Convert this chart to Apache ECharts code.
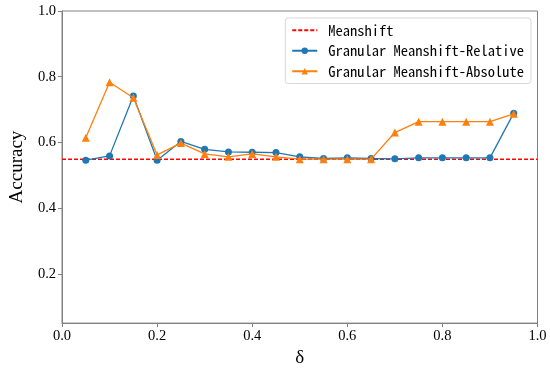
<!DOCTYPE html>
<html>
<head>
<meta charset="utf-8">
<script src="https://cdn.jsdelivr.net/npm/echarts@6/dist/echarts.min.js"></script>
<style>html,body{margin:0;padding:0;background:#fff}#c{width:550px;height:373px}</style>
</head>
<body>
<div id="c"></div>
<script>
const deltas = [0.05,0.1,0.15,0.2,0.25,0.3,0.35,0.4,0.45,0.5,0.55,0.6,0.65,0.7,0.75,0.8,0.85,0.9,0.95];
const relative = [0.546,0.559,0.741,0.546,0.603,0.579,0.571,0.570,0.569,0.556,0.551,0.553,0.551,0.550,0.553,0.553,0.553,0.553,0.689];
const absolute = [0.614,0.783,0.736,0.562,0.598,0.565,0.556,0.565,0.556,0.549,0.549,0.549,0.549,0.630,0.663,0.663,0.663,0.663,0.687];
const meanshiftValue = 0.549;
const xRange = [0, 1];
const yTicks = [0.2, 0.4, 0.6, 0.8, 1.0];

const serif = 'Liberation Serif';
const mono = 'Noto Sans Mono CJK SC';
const axisGray = '#808080';

const chart = echarts.init(document.getElementById('c'), null, {renderer: 'canvas'});
chart.setOption({
  animation: false,
  textStyle: {fontFamily: serif},
  grid: {left: 50, right: 12.5, top: 11, bottom: 39.7, show: true, borderColor: axisGray, borderWidth: 1, containLabel: false},
  legend: {
    orient: 'vertical', right: 19, top: 18,
    itemWidth: 25, itemHeight: 8, itemGap: 6,
    borderColor: '#d8d8d8', borderWidth: 1, borderRadius: 3,
    padding: [5, 7, 5, 6],
    textStyle: {fontFamily: mono, fontSize: 14.5, color: '#000', padding: [0, 0, 0, 6]},
    data: [
      {name: 'Meanshift', itemStyle: {color: 'rgba(0,0,0,0)', borderWidth: 0}},
      'Granular Meanshift-Relative',
      'Granular Meanshift-Absolute'
    ]
  },
  xAxis: {
    type: 'value', min: xRange[0], max: xRange[1], interval: 0.2,
    name: 'δ', nameLocation: 'middle', nameGap: 22,
    nameTextStyle: {fontFamily: serif, fontSize: 19, color: '#000'},
    axisLine: {show: true, lineStyle: {color: axisGray}},
    axisTick: {show: true, length: 4, lineStyle: {color: axisGray}},
    axisLabel: {fontFamily: serif, fontSize: 14.5, color: '#000', margin: 6, formatter: v => v.toFixed(1)},
    splitLine: {show: false}
  },
  yAxis: {
    type: 'value', min: 0.05, max: 1.0,
    name: 'Accuracy', nameLocation: 'middle', nameGap: 35, nameRotate: 90,
    nameTextStyle: {fontFamily: serif, fontSize: 19, color: '#000'},
    axisLine: {show: true, lineStyle: {color: axisGray}},
    axisTick: {show: true, length: 4, customValues: yTicks, lineStyle: {color: axisGray}},
    axisLabel: {fontFamily: serif, fontSize: 14.5, color: '#000', margin: 6, customValues: yTicks, formatter: v => v.toFixed(1)},
    splitLine: {show: false}
  },
  series: [
    {
      name: 'Meanshift', type: 'line', symbol: 'none', z: 1,
      data: xRange.map(x => [x, meanshiftValue]),
      lineStyle: {color: '#ff0000', type: [4, 2], width: 1.5},
      itemStyle: {color: '#ff0000'}
    },
    {
      name: 'Granular Meanshift-Relative', type: 'line', symbol: 'circle', symbolSize: 7, z: 2,
      data: deltas.map((d, i) => [d, relative[i]]),
      lineStyle: {color: '#1f77b4', width: 1.3},
      itemStyle: {color: '#1f77b4'}
    },
    {
      name: 'Granular Meanshift-Absolute', type: 'line', symbol: 'triangle', symbolSize: 8, z: 3,
      data: deltas.map((d, i) => [d, absolute[i]]),
      lineStyle: {color: '#ff7f0e', width: 1.3},
      itemStyle: {color: '#ff7f0e'}
    }
  ]
});
</script>
</body>
</html>
